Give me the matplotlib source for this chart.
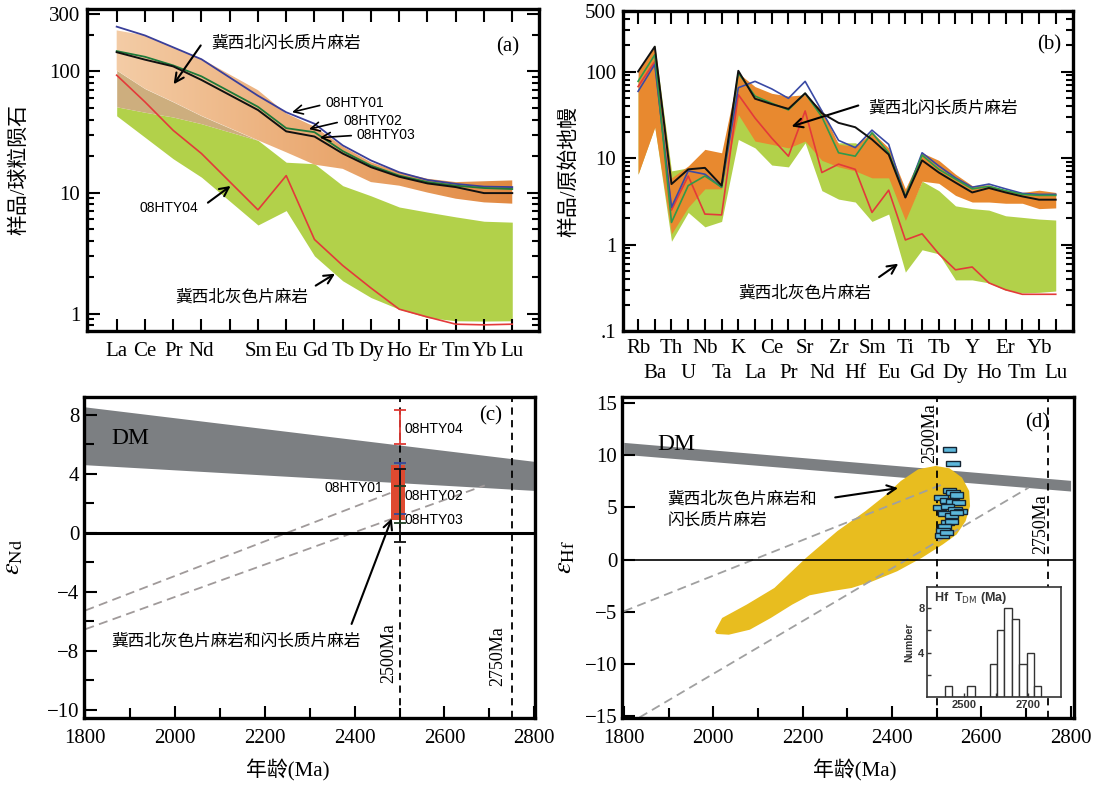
import matplotlib
matplotlib.use('Agg')
import matplotlib.pyplot as plt
import numpy as np
from matplotlib.patches import Polygon, Rectangle
from matplotlib.ticker import LogLocator, NullFormatter

plt.rcParams['font.family'] = ['Liberation Serif', 'Noto Sans CJK SC']
plt.rcParams['mathtext.fontset'] = 'stix'

CJK = ['Noto Sans CJK SC', 'DejaVu Sans']
SERIF = ['Liberation Serif', 'Noto Sans CJK SC']
NARROW = ['Liberation Sans Narrow', 'Liberation Sans']

# ---------------- (a) REE, chondrite normalised ----------------
ree_all = ['La', 'Ce', 'Pr', 'Nd', 'Pm', 'Sm', 'Eu', 'Gd', 'Tb', 'Dy', 'Ho', 'Er', 'Tm', 'Yb', 'Lu']
ree_used = ['La', 'Ce', 'Pr', 'Nd', 'Sm', 'Eu', 'Gd', 'Tb', 'Dy', 'Ho', 'Er', 'Tm', 'Yb', 'Lu']
a_hty01 = [234, 198, 158, 126, 63, 46, 37, 24.5, 18.4, 14.7, 12.7, 11.8, 11.2, 11.1]
a_hty02 = [147, 132, 112, 91, 51, 34, 31.5, 22, 16.7, 13.8, 12.2, 11.4, 10.9, 10.7]
a_hty03 = [144, 125, 110, 85, 48, 32, 29, 21, 16.2, 13.5, 11.9, 11.1, 9.9, 9.9]
a_hty04 = [93, 56, 32.6, 21, 7.2, 13.8, 4.1, 2.5, 1.63, 1.09, 0.94, 0.82, 0.81, 0.82]
a_dio_hi = [218, 198, 158, 127, 70, 45, 35, 24, 17.8, 14.7, 13, 12.2, 12.4, 12.6]
a_dio_lo = [102, 72, 56, 43, 27, 21.5, 17, 15.7, 12.2, 11.4, 10, 8.9, 8.3, 8.1]
a_gry_hi = [51, 46, 42, 37, 27, 17.8, 17.3, 11.4, 9.4, 7.6, 6.9, 6.3, 5.8, 5.7]
a_gry_lo = [43, 28.6, 19, 13.4, 5.4, 7.1, 3.0, 1.87, 1.36, 1.09, 0.93, 0.875, 0.87, 0.875]
n_overlap = 5  # La..Sm: tan zone between the two fields

# ---------------- (b) spider, primitive mantle normalised ----------------
spider = ['Rb', 'Ba', 'Th', 'U', 'Nb', 'Ta', 'K', 'La', 'Ce', 'Pr', 'Sr', 'Nd', 'Zr',
          'Hf', 'Sm', 'Eu', 'Ti', 'Gd', 'Tb', 'Dy', 'Y', 'Ho', 'Er', 'Tm', 'Yb', 'Lu']
b_hty01 = [59, 121, 2.7, 7.1, 6.5, 4.6, 65, 77, 63, 49, 77, 35, 16, 13.2, 21, 14.4, 3.5,
           11.5, 8.1, 5.9, 4.6, 5.0, 4.4, 3.9, 3.8, 3.8]
b_hty02 = [77, 156, 1.8, 4.8, 6.2, 4.6, 96, 52, 43, 36, 56, 30, 11.5, 10.5, 19.6, 11.5, 3.6,
           10.8, 7.4, 5.7, 4.4, 4.7, 4.2, 3.8, 3.7, 3.7]
b_hty03 = [100, 194, 5.0, 7.4, 7.7, 4.8, 102, 48.5, 42, 37, 56, 33, 25.5, 22.7, 16.4, 11, 3.5,
           9.4, 6.8, 5.2, 4.0, 4.5, 4.0, 3.6, 3.3, 3.3]
b_hty04 = [67, 130, 2.5, 6.2, 2.25, 2.2, 54, 29, 17, 10.5, 35, 6.8, 8.5, 7.4, 2.35, 4.25, 1.13,
           1.33, 0.78, 0.51, 0.55, 0.36, 0.30, 0.266, 0.266, 0.266]
b_dio_hi = [100, 194, 5.9, 8.1, 12.6, 11.5, 96, 67, 56, 52, 54, 36, 14.4, 13.7, 20, 13.1, 4.4,
            11.5, 9.4, 6.5, 4.8, 4.9, 4.25, 4.0, 4.25, 4.0]
b_dio_lo = [6.5, 22.7, 1.33, 2.7, 4.4, 4.4, 31.8, 15.7, 14.4, 13.1, 15.7, 9.4, 7.9, 7.1, 5.9, 5.9,
            1.9, 5.4, 5.1, 3.7, 3.1, 3.1, 3.0, 3.0, 2.6, 2.65]
b_gry_hi = [85, 202, 7.1, 7.7, 6.5, 5.9, 100, 49, 38, 35, 49, 22, 15, 15, 12, 10, 2.06,
            5.4, 4.2, 2.8, 2.6, 2.5, 2.15, 2.06, 1.97, 1.92]
b_gry_lo = [6.5, 23, 1.09, 2.35, 1.6, 1.85, 16.4, 13.1, 8.3, 7.9, 15, 4.2, 3.35, 3.1, 1.85, 2.25,
            0.48, 0.87, 0.78, 0.39, 0.39, 0.36, 0.296, 0.276, 0.28, 0.29]

# ---------------- (c) eNd vs age ----------------
dm_age = [1800, 2800]
c_dm_hi = [8.52, 4.83]
c_dm_lo = [4.6, 2.86]
c_evo1_age, c_evo1_eps = [1800, 2515], [-5.28, 3.1]
c_evo2_age, c_evo2_eps = [1800, 2690], [-6.55, 3.2]
nd_box_age = [2482, 2513]
nd_box_eps = [0.85, 4.6]
nd_samples = ['08HTY01', '08HTY02', '08HTY03', '08HTY04']
nd_age = [2500, 2500, 2500, 2500]
nd_mid = [3.0, 1.85, 1.9, 7.15]
nd_half = [1.72, 2.48, 1.25, 1.15]
nd_colors = ['#34489a', '#111111', '#1f3d22', '#e03a34']
ref_ages = [2500, 2750]

# ---------------- (d) eHf vs age ----------------
d_dm_hi = [11.2, 7.57]
d_dm_lo = [10.06, 6.55]
d_evo1_age, d_evo1_eps = [1800, 2520], [-4.95, 7.3]
d_evo2_age, d_evo2_eps = [1835, 2706], [-15.1, 6.87]
field_age = [2004, 2020, 2075, 2137, 2208, 2278, 2341, 2388, 2420, 2459, 2498, 2529, 2557,
             2573, 2575, 2565, 2545, 2514, 2467, 2412, 2357, 2310, 2263, 2216, 2177, 2129,
             2082, 2035, 2008]
field_eps = [-6.87, -5.59, -4.31, -2.72, 0.16, 2.72, 4.63, 6.23, 7.51, 8.63, 8.95, 8.72, 7.83,
             6.55, 5.11, 3.67, 2.40, 1.44, 0.16, -1.12, -2.08, -2.72, -3.04, -3.42, -4.31,
             -5.59, -6.71, -7.19, -7.12]
hf_age = [2529, 2537, 2529, 2537, 2545, 2510, 2522, 2536, 2549, 2506, 2525, 2541, 2553,
          2518, 2533, 2545, 2525, 2533, 2518, 2514, 2512, 2522]
hf_eps = [10.48, 9.17, 6.61, 6.39, 6.17, 5.91, 5.65, 5.59, 5.43, 4.95, 5.11, 4.79, 4.57,
          4.38, 4.25, 4.47, 3.51, 3.67, 3.19, 2.78, 2.33, 2.56]
hf_age_err = 15
hf_eps_err = 0.24

# inset histogram of Hf TDM
tdm_left = [2439, 2462, 2485, 2509, 2532, 2555, 2579, 2602, 2625, 2648, 2672, 2695, 2718]
tdm_count = [1, 0, 0, 1, 0, 0, 3, 6, 8, 7, 3, 4, 1]
tdm_width = 23.2

ORANGE = '#e8892f'
GREEN = '#b2d14a'
TAN = '#cdae7e'
GREY_DM = '#7c7f82'


def frame(ax, lw=2.4):
    for s in ax.spines.values():
        s.set_linewidth(lw)


def arrow(ax, tail, head, lw=1.5):
    ax.annotate('', xy=head, xytext=tail,
                arrowprops=dict(arrowstyle='->', color='k', lw=lw, mutation_scale=16))


fig = plt.figure(figsize=(11, 7.85), dpi=100)
ax_a = fig.add_axes([0.0791, 0.5783, 0.411, 0.4108])
ax_b = fig.add_axes([0.5664, 0.5783, 0.409, 0.4076])
ax_c = fig.add_axes([0.0764, 0.0854, 0.410, 0.409])
ax_d = fig.add_axes([0.5655, 0.0854, 0.411, 0.409])

# ===== (a) =====
xa = [ree_all.index(e) for e in ree_used]
ax_a.set_yscale('log')
ax_a.fill_between(xa, a_gry_lo, a_gry_hi, color=GREEN, lw=0, zorder=1)
ax_a.fill_between(xa[:n_overlap], a_gry_hi[:n_overlap], a_dio_lo[:n_overlap],
                  color=TAN, lw=0, zorder=1)
band = ax_a.fill_between(xa, a_dio_lo, a_dio_hi, facecolor='none', lw=0, zorder=2)
u = np.linspace(0, 1, 300)
c0 = np.array([0.96, 0.82, 0.68])
c1 = np.array([0.88, 0.52, 0.23])
grad = c0[None, None, :] * (1 - u)[None, :, None] + c1[None, None, :] * u[None, :, None]
grad = np.repeat(grad, 2, axis=0)
img = ax_a.imshow(grad, extent=(0, 1, 0, 1), transform=ax_a.transAxes, aspect='auto',
                  zorder=2, interpolation='bilinear')
img.set_clip_path(band.get_paths()[0], transform=ax_a.transData)
ax_a.plot(xa, a_hty04, color='#e33a3a', lw=1.2, zorder=3)
ax_a.plot(xa, a_hty01, color='#3a3f9a', lw=1.3, zorder=3)
ax_a.plot(xa, a_hty02, color='#1f7a3a', lw=1.3, zorder=3)
ax_a.plot(xa, a_hty03, color='#111111', lw=1.4, zorder=4)
ax_a.set_xlim(-1.05, 14.95)
ax_a.set_ylim(0.72, 330)
ax_a.set_xticks(range(len(ree_all)))
ax_a.set_xticklabels([e if e != 'Pm' else '' for e in ree_all], fontsize=15)
ax_a.set_yticks([1, 10, 100, 300])
ax_a.set_yticklabels(['1', '10', '100', '300'], fontsize=15)
ax_a.yaxis.set_minor_locator(LogLocator(base=10, subs=np.arange(2, 10)))
ax_a.yaxis.set_minor_formatter(NullFormatter())
ax_a.tick_params(which='both', direction='in', top=True, right=True, width=1.5)
ax_a.tick_params(which='major', length=9)
ax_a.tick_params(which='minor', length=5)
ax_a.tick_params(axis='x', pad=8)
ax_a.tick_params(axis='y', pad=5)
frame(ax_a)
ax_a.set_ylabel('样品/球粒陨石', family=SERIF, fontsize=15)
ax_a.yaxis.set_label_coords(-0.128, 0.5)
ax_a.text(3.34, 171, '冀西北闪长质片麻岩', family=CJK, fontsize=12, va='center')
arrow(ax_a, (3.03, 171), (1.96, 75))
ax_a.text(7.4, 55, '08HTY01', family=NARROW, fontsize=10, va='center')
arrow(ax_a, (7.28, 53), (6.11, 45.5), lw=1.2)
ax_a.text(8.03, 39, '08HTY02', family=NARROW, fontsize=10, va='center')
arrow(ax_a, (7.9, 38.3), (6.71, 33), lw=1.2)
ax_a.text(8.49, 29.6, '08HTY03', family=NARROW, fontsize=10, va='center')
arrow(ax_a, (8.4, 29.6), (7.09, 28.3), lw=1.2)
ax_a.text(2.9, 7.5, '08HTY04', family=NARROW, fontsize=10, va='center', ha='right')
arrow(ax_a, (3.15, 8.0), (4.11, 11.7))
ax_a.text(2.09, 1.37, '冀西北灰色片麻岩', family=CJK, fontsize=12, va='center')
arrow(ax_a, (6.96, 1.66), (7.81, 2.2))
ax_a.text(13.84, 160, '(a)', fontsize=15, ha='center', va='center')

# ===== (b) =====
xb = np.arange(len(spider))
ax_b.set_yscale('log')
ax_b.fill_between(xb, b_gry_lo, b_gry_hi, color=GREEN, lw=0, zorder=1)
ax_b.fill_between(xb, b_dio_lo, b_dio_hi, color=ORANGE, lw=0, zorder=2)
ax_b.plot(xb, b_hty04, color='#e33a3a', lw=1.2, zorder=3)
ax_b.plot(xb, b_hty01, color='#3a4aa5', lw=1.2, zorder=3)
ax_b.plot(xb, b_hty02, color='#2f9a4a', lw=1.2, zorder=3)
ax_b.plot(xb, b_hty03, color='#111111', lw=1.4, zorder=4)
ax_b.set_xlim(-0.9, 26.03)
ax_b.set_ylim(0.1, 500)
ax_b.set_xticks(xb[::2], spider[::2], fontsize=15)
ax_b.set_xticks(xb[1::2], spider[1::2], minor=True, fontsize=15)
ax_b.set_yticks([0.1, 1, 10, 100, 500])
ax_b.set_yticklabels(['.1', '1', '10', '100', '500'], fontsize=15)
ax_b.yaxis.set_minor_locator(LogLocator(base=10, subs=np.arange(2, 10)))
ax_b.yaxis.set_minor_formatter(NullFormatter())
ax_b.tick_params(which='both', direction='in', top=True, right=True, width=1.5)
ax_b.tick_params(which='major', length=9)
ax_b.tick_params(which='minor', length=5)
ax_b.tick_params(axis='x', which='major', pad=6)
ax_b.tick_params(axis='x', which='minor', length=9, pad=24)
ax_b.tick_params(axis='y', pad=5)
frame(ax_b)
ax_b.set_ylabel('样品/原始地幔', family=SERIF, fontsize=15)
ax_b.yaxis.set_label_coords(-0.098, 0.5)
ax_b.text(13.76, 37.9, '冀西北闪长质片麻岩', family=CJK, fontsize=12, va='center')
arrow(ax_b, (13.34, 41.4), (9.03, 22.7))
ax_b.text(5.99, 0.271, '冀西北灰色片麻岩', family=CJK, fontsize=12, va='center')
arrow(ax_b, (14.29, 0.403), (15.71, 0.627))
ax_b.text(24.58, 203, '(b)', fontsize=15, ha='center', va='center')

# ===== (c) =====
ax_c.fill_between(dm_age, c_dm_lo, c_dm_hi, color=GREY_DM, lw=0, zorder=1)
ax_c.plot(c_evo1_age, c_evo1_eps, color='#a09a9a', ls=(0, (5, 3)), lw=1.3, zorder=2)
ax_c.plot(c_evo2_age, c_evo2_eps, color='#a09a9a', ls=(0, (5, 3)), lw=1.3, zorder=2)
ax_c.axhline(0, color='k', lw=2.2, zorder=2)
for age in ref_ages:
    ax_c.axvline(age, color='k', ls=(0, (4, 3)), lw=1.3, zorder=2)
ax_c.add_patch(Rectangle((nd_box_age[0], nd_box_eps[0]), nd_box_age[1] - nd_box_age[0],
                         nd_box_eps[1] - nd_box_eps[0], facecolor='#de4a30', edgecolor='none',
                         zorder=3))
for a, m, h, col in zip(nd_age, nd_mid, nd_half, nd_colors):
    ax_c.errorbar(a, m, yerr=h, color=col, capsize=4, lw=1.3, capthick=1.3, zorder=4)
ax_c.set_xlim(1797, 2802)
ax_c.set_ylim(-12.57, 9.2)
ax_c.set_xticks(np.arange(1800, 2801, 200))
ax_c.set_xticks(np.arange(1900, 2800, 200), minor=True)
ax_c.set_yticks([8, 4, 0, -4, -8, -12])
ax_c.set_yticklabels(['8', '4', '0', '\u22124', '\u22128', '\u221210'])
ax_c.set_yticks([6, 2, -2, -6, -10], minor=True)
ax_c.tick_params(which='both', direction='in', labelsize=15, width=1.5)
ax_c.tick_params(which='major', length=9)
ax_c.tick_params(which='minor', length=7)
ax_c.tick_params(axis='x', pad=8)
frame(ax_c)
ax_c.set_ylabel(r'$\varepsilon_{\mathrm{Nd}}$', fontsize=19)
ax_c.yaxis.set_label_coords(-0.13, 0.5)
ax_c.set_xlabel('年龄(Ma)', family=SERIF, fontsize=15)
ax_c.xaxis.set_label_coords(0.452, -0.13)
ax_c.text(1857, 6.4, 'DM', fontsize=17, va='center')
ax_c.text(2703, 7.9, '(c)', fontsize=15, ha='center', va='center')
ax_c.text(2512, 7.03, nd_samples[3], family=NARROW, fontsize=10, va='center')
ax_c.text(2464, 3.0, nd_samples[0], family=NARROW, fontsize=10, va='center', ha='right')
ax_c.text(2512, 2.46, nd_samples[1], family=NARROW, fontsize=10, va='center')
ax_c.text(2512, 0.83, nd_samples[2], family=NARROW, fontsize=10, va='center')
ax_c.text(2477, -8.2, '2500Ma', rotation=90, fontsize=13, ha='center', va='center')
ax_c.text(2718, -8.4, '2750Ma', rotation=90, fontsize=13, ha='center', va='center')
ax_c.text(1857, -7.38, '冀西北灰色片麻岩和闪长质片麻岩', family=CJK, fontsize=12, va='center')
arrow(ax_c, (2391, -6.37), (2485, 1.14))

# ===== (d) =====
ax_d.fill_between(dm_age, d_dm_lo, d_dm_hi, color=GREY_DM, lw=0, zorder=1)
ax_d.add_patch(Polygon(np.column_stack([field_age, field_eps]), closed=True,
                       facecolor='#e8bd1f', edgecolor='none', zorder=1))
ax_d.plot(d_evo1_age, d_evo1_eps, color='#a0a0a0', ls=(0, (5, 3)), lw=1.3, zorder=2)
ax_d.plot(d_evo2_age, d_evo2_eps, color='#a0a0a0', ls=(0, (5, 3)), lw=1.3, zorder=2)
ax_d.axhline(0, color='k', lw=1.2, zorder=2)
for age in ref_ages:
    ax_d.axvline(age, color='k', ls=(0, (4, 3)), lw=1.3, zorder=2)
for a, e in zip(hf_age, hf_eps):
    ax_d.add_patch(Rectangle((a - hf_age_err, e - hf_eps_err), 2 * hf_age_err, 2 * hf_eps_err,
                             facecolor='#5cb7db', edgecolor='#142433', lw=1.0, zorder=3))
ax_d.set_xlim(1796, 2808)
ax_d.set_ylim(-15.15, 15.55)
ax_d.set_xticks(np.arange(1800, 2801, 200))
ax_d.set_xticks(np.arange(1900, 2800, 200), minor=True)
ax_d.set_yticks([15, 10, 5, 0, -5, -10, -15])
ax_d.set_yticklabels(['15', '10', '5', '0', '\u22125', '\u221210', '\u221215'])
ax_d.tick_params(which='both', direction='in', labelsize=15, width=1.5)
ax_d.tick_params(which='major', length=9)
ax_d.tick_params(which='minor', length=7)
ax_d.tick_params(axis='x', pad=8)
frame(ax_d)
ax_d.set_ylabel(r'$\varepsilon_{\mathrm{Hf}}$', fontsize=19)
ax_d.yaxis.set_label_coords(-0.1, 0.5)
ax_d.set_xlabel('年龄(Ma)', family=SERIF, fontsize=15)
ax_d.xaxis.set_label_coords(0.515, -0.13)
ax_d.text(1875, 11.0, 'DM', fontsize=17, va='center')
ax_d.text(2725, 13.1, '(d)', fontsize=15, ha='center', va='center')
ax_d.text(2484, 12.1, '2500Ma', rotation=90, fontsize=13, ha='center', va='center')
ax_d.text(2734, 3.4, '2750Ma', rotation=90, fontsize=13, ha='center', va='center')
ax_d.text(1898, 4.8, '冀西北灰色片麻岩和\n闪长质片麻岩', family=CJK, fontsize=12,
          va='center', linespacing=1.3)
arrow(ax_d, (2267, 5.9), (2420, 6.87))

# ----- inset histogram -----
ax_h = fig.add_axes([0.843, 0.1121, 0.1214, 0.140])
ax_h.bar(tdm_left, tdm_count, width=tdm_width, align='edge', facecolor='white',
         edgecolor='#333333', lw=1.0)
ax_h.set_xlim(2384, 2802)
ax_h.set_ylim(0, 9.9)
ax_h.set_xticks([2500, 2700])
ax_h.set_xticks([2600], minor=True)
ax_h.set_yticks([4, 8])
ax_h.set_yticks([2, 6], minor=True)
ax_h.tick_params(which='both', direction='in', length=3, width=1, pad=2, labelsize=8,
                 colors='#333333')
for lab in ax_h.get_xticklabels() + ax_h.get_yticklabels():
    lab.set_family('Liberation Sans')
    lab.set_fontweight('bold')
for s in ax_h.spines.values():
    s.set_linewidth(1.2)
    s.set_color('#333333')
ax_h.set_ylabel('Number', family='Liberation Sans', fontweight='bold', fontsize=7.5,
                color='#333333', labelpad=3)
ax_h.text(0.05, 0.9, r'Hf  T$_{\mathrm{DM}}$ (Ma)', transform=ax_h.transAxes,
          family='Liberation Sans', fontweight='bold', fontsize=9, color='#333333',
          va='center', math_fontfamily='dejavusans')

fig.savefig('out.png', dpi=100)
